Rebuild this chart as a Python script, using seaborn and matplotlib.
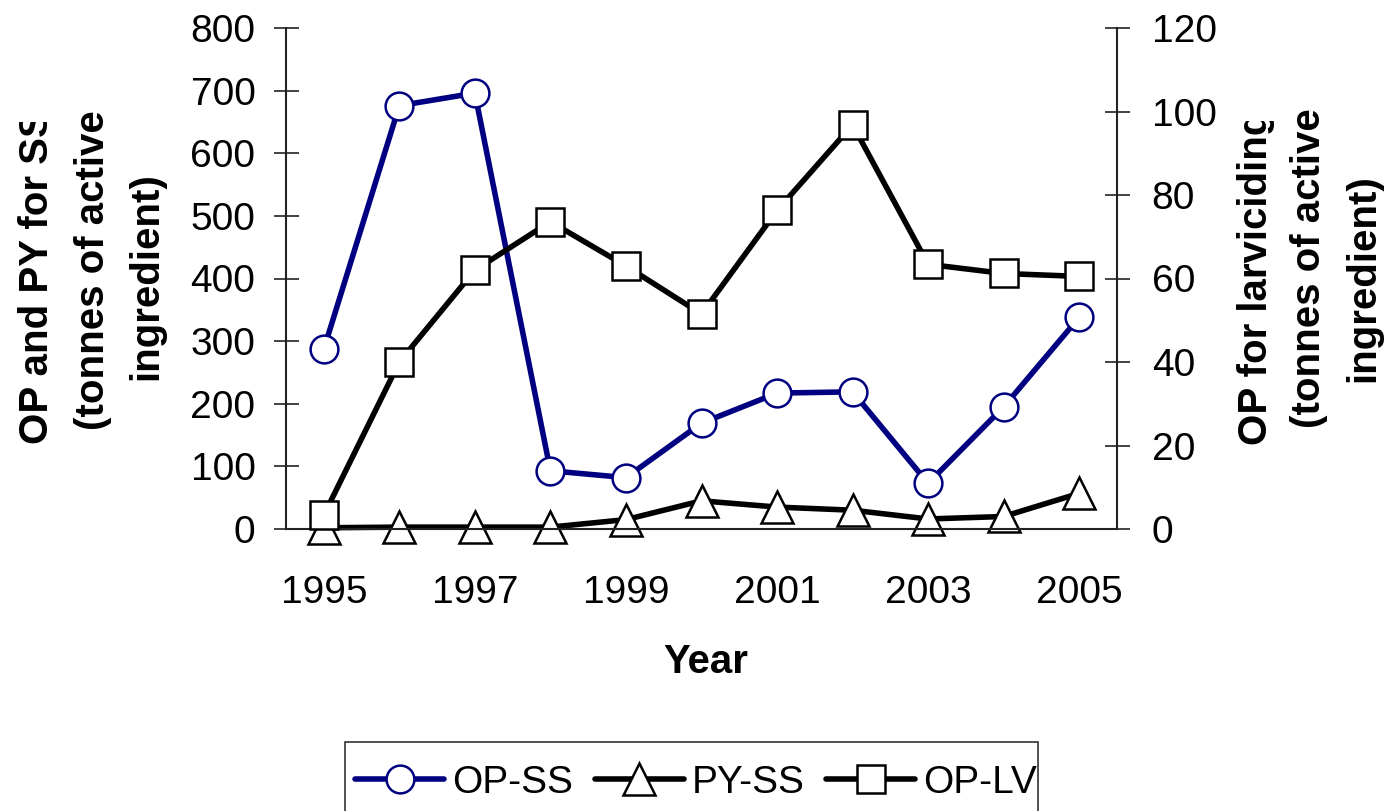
import matplotlib
matplotlib.use("Agg")
import matplotlib.pyplot as plt
import matplotlib.patches as mpatches
from matplotlib.lines import Line2D
from matplotlib.transforms import Bbox
import seaborn as sns

years = [1995, 1996, 1997, 1998, 1999, 2000, 2001, 2002, 2003, 2004, 2005]
op_ss = [287, 676, 696, 93, 82, 169, 217, 219, 73, 195, 338]
py_ss = [2, 3, 3, 3, 15, 45, 35, 30, 16, 20, 57]
op_lv = [3.3, 40, 62, 73.6, 63, 51.5, 76.3, 96.8, 63.4, 61.2, 60.5]
year_labels = [1995, 1997, 1999, 2001, 2003, 2005]

left_title = ['OP and PY for SS', '(tonnes of active', 'ingredient)']
right_title = ['OP for larviciding', '(tonnes of active', 'ingredient)']

NAVY = "#000080"
W, H = 1386, 811

sns.set_style("white")
plt.rcParams['font.family'] = ['Liberation Sans', 'DejaVu Sans']
plt.rcParams['text.color'] = 'black'
plt.rcParams['xtick.color'] = 'black'
plt.rcParams['ytick.color'] = 'black'

fig = plt.figure(figsize=(W / 100, H / 100), dpi=100)
ax = fig.add_axes([286 / W, 1 - 529 / H, (1117 - 286) / W, (529 - 28) / H])
ax2 = ax.twinx()

lw = 4
mew = 1.8
circ = dict(marker='o', markersize=20, markerfacecolor='white', markeredgecolor=NAVY, markeredgewidth=mew)
tri = dict(marker='^', markersize=23, markerfacecolor='white', markeredgecolor='black', markeredgewidth=mew)
sq = dict(marker='s', markersize=20, markerfacecolor='white', markeredgecolor='black', markeredgewidth=mew)

sns.lineplot(x=years, y=op_ss, ax=ax, color=NAVY, lw=lw, **circ)
sns.lineplot(x=years, y=py_ss, ax=ax, color='black', lw=lw, **tri)
sns.lineplot(x=years, y=op_lv, ax=ax2, color='black', lw=lw, **sq)

ax.set_xlim(1994.55, 2005.49)
ax.set_ylim(0, 800)
ax2.set_ylim(0, 120)
for a in (ax, ax2):
    for line in a.lines:
        line.set_clip_on(False)
    a.spines['top'].set_visible(False)
    for s in ('left', 'right', 'bottom'):
        a.spines[s].set_color('#222222')
        a.spines[s].set_linewidth(1.5)
    a.grid(False)
ax2.spines['left'].set_visible(False)
ax2.spines['bottom'].set_visible(False)
ax.spines['right'].set_visible(False)

ax.set_yticks(range(0, 801, 100))
ax2.set_yticks(range(0, 121, 20))
ax.set_xticks(year_labels)
ax.set_xticklabels([str(y) for y in year_labels])
ax.set_xticks([y - 0.5 for y in years] + [2005.5], minor=True)
ax.tick_params(axis='x', which='major', length=0, pad=33, labelsize=28)
ax.tick_params(axis='x', which='minor', direction='inout', length=18, width=1.2, color='#222222')
ax.tick_params(axis='y', direction='inout', length=18, width=1.2, color='#222222', pad=13, labelsize=28)
ax2.tick_params(axis='y', direction='inout', length=18, width=1.2, color='#222222', pad=16, labelsize=28)
ax.set_xlabel('')
ax.set_ylabel('')
ax2.set_ylabel('')

fig.text(706 / W, 1 - 662 / H, 'Year', ha='center', va='center', fontsize=29, fontweight='bold')


def vtitle(lines, baselines, centers, clip_top):
    # one rotated text per line; the first line is cut off at the top like the original
    for i, (txt, bx, cy) in enumerate(zip(lines, baselines, centers)):
        t = fig.text(bx / W, 1 - cy / H, txt, rotation=90, rotation_mode='anchor',
                     ha='center', va='baseline', fontsize=29, fontweight='bold')
        if i == 0:
            t.set_clip_box(Bbox.from_extents(0, 0, W, H - clip_top))
            t.set_clip_on(True)


vtitle(left_title, [48, 104, 157], [277, 270, 276], 122)
vtitle(right_title, [1267, 1320, 1374], [278, 268, 278], 121)

# legend box runs off the bottom of the figure
fig.patches.append(mpatches.Rectangle((345 / W, -0.05), (1038 - 345) / W, 0.05 + 1 - 742 / H,
                                      transform=fig.transFigure, fill=False,
                                      edgecolor='#333333', lw=1.2))
handles = [
    Line2D([], [], color=NAVY, lw=lw, **circ),
    Line2D([], [], color='black', lw=lw, **tri),
    Line2D([], [], color='black', lw=lw, **sq),
]
fig.legend(handles, ['OP-SS', 'PY-SS', 'OP-LV'], loc='center', ncol=3,
           bbox_to_anchor=(696 / W, 1 - 783 / H), frameon=False, fontsize=28,
           handlelength=2.3, handletextpad=0.2, columnspacing=0.55, borderaxespad=0,
           borderpad=0)

fig.savefig('out.png', dpi=100)
